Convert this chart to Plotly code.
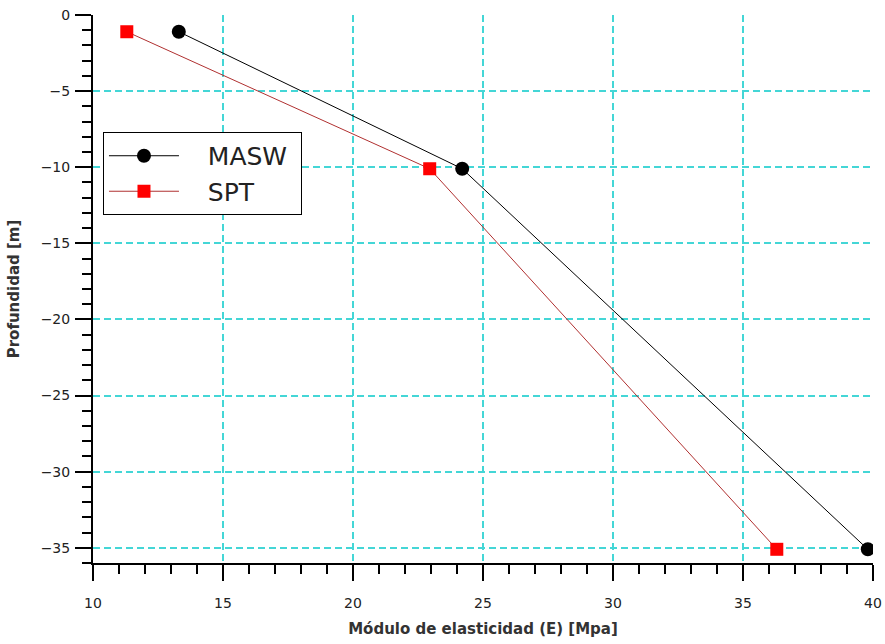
import plotly.graph_objects as go

masw_x = [13.3, 24.2, 39.8]
masw_y = [-1.1, -10.1, -35.1]
spt_x = [11.3, 22.95, 36.3]
spt_y = [-1.1, -10.1, -35.1]

x_ticks = [10, 15, 20, 25, 30, 35, 40]
y_ticks = [0, -5, -10, -15, -20, -25, -30, -35]

font = "Tahoma, DejaVu Sans, sans-serif"

fig = go.Figure()
fig.add_trace(go.Scatter(x=masw_x, y=masw_y, name="   MASW ", mode="lines+markers",
                         line=dict(color="black", width=1),
                         marker=dict(symbol="circle", size=14, color="black")))
fig.add_trace(go.Scatter(x=spt_x, y=spt_y, name="   SPT", mode="lines+markers",
                         line=dict(color="#b03030", width=1),
                         marker=dict(symbol="square", size=13, color="#ff0000")))

grid = dict(showgrid=True, gridcolor="#44d6d6", griddash="7px,4px", gridwidth=1.6)
fig.update_layout(
    width=885, height=644,
    paper_bgcolor="white", plot_bgcolor="white",
    margin=dict(l=93, r=12, t=15, b=81),
    font=dict(family=font, size=14, color="#222"),
    showlegend=True,
    legend=dict(x=0.0128, y=0.7865, xanchor="left", yanchor="top",
                bordercolor="black", borderwidth=1, bgcolor="white",
                font=dict(size=25, color="#222"), itemwidth=70,
                tracegroupgap=0),
    xaxis=dict(range=[10, 40], tickvals=x_ticks, ticktext=[str(v) for v in x_ticks],
               automargin=False, ticklabeloverflow="allow", ticklabelstandoff=10,
               showline=True, linecolor="black", linewidth=2,
               ticks="outside", ticklen=16, tickcolor="black", tickwidth=2,
               minor=dict(dtick=1, ticks="outside", ticklen=9, tickcolor="black", tickwidth=2, showgrid=False),
               title=dict(text="<b>Módulo de elasticidad (E) [Mpa]</b>", font=dict(size=15, color="#333"), standoff=14),
               zeroline=False, **grid),
    yaxis=dict(range=[-36, 0], tickvals=y_ticks, ticktext=[str(v).replace("-", "−") for v in y_ticks],
               automargin=False, ticklabeloverflow="allow", ticklabelstandoff=2,
               showline=True, linecolor="black", linewidth=2,
               ticks="outside", ticklen=16, tickcolor="black", tickwidth=2,
               minor=dict(dtick=1, ticks="outside", ticklen=9, tickcolor="black", tickwidth=2, showgrid=False),
               title=dict(text="<b>Profundidad [m]</b>", font=dict(size=15, color="#333"), standoff=17),
               zeroline=False, **grid),
)
fig.write_html("out.html", config={"displayModeBar": False},
               post_script="document.documentElement.style.margin='0';document.body.style.margin='0';document.body.style.overflow='hidden';")
